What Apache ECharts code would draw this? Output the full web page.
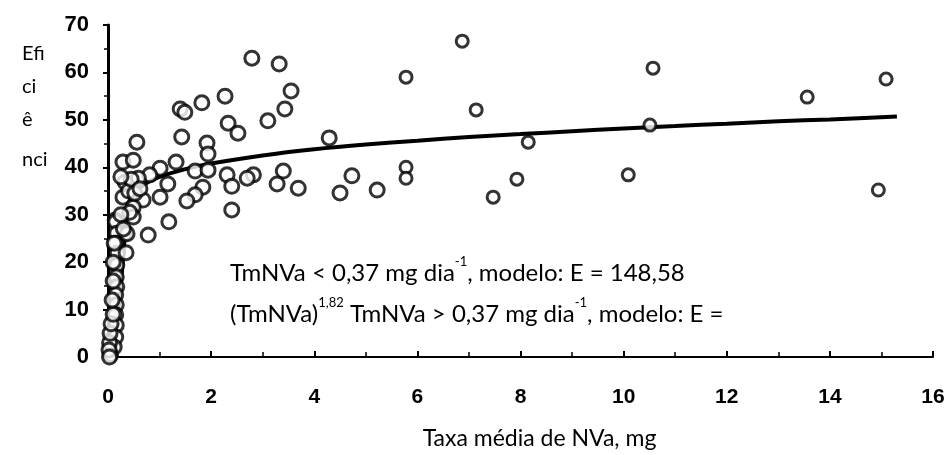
<!DOCTYPE html>
<html>
<head>
<meta charset="utf-8">
<script src="https://cdn.jsdelivr.net/npm/echarts@6/dist/echarts.min.js"></script>
<style>
html,body{margin:0;padding:0;background:#fff;}
#chart{width:949px;height:455px;}
</style>
</head>
<body>
<div id="chart"></div>
<script>
// Observed points (TmNVa, Eficiência)
var obsX = [13.56,15.09,14.94,10.57,10.51,10.09,6.87,5.78,7.14,8.15,5.78,5.78,7.93,7.47,
  2.79,3.32,3.55,3.43,3.10,4.29,2.82,2.70,3.40,3.28,3.69,4.50,4.73,5.22,
  2.27,1.82,1.40,1.49,2.33,2.52,0.56,1.43,1.92,1.94,0.29,0.49,1.32,1.01,0.81,0.59,0.33,1.16,1.69,1.94,2.31,2.40,1.84,1.69,1.53,1.01,0.68,0.29,0.49,2.40,1.18,0.78,0.49,0.14,0.33,
  0.40,0.45,0.25,0.52,0.62,0.42,
  0.15,0.17,0.15,0.18,0.17,0.16,0.17,0.15,0.16,0.15,0.16,0.15,0.12,0.05,0.37,0.35,0.03,0.04,0.02,0.06,0.10,0.08,0.10,0.10,0.12,0.25,0.30,0.03];
var obsY = [54.8,58.6,35.2,60.9,48.9,38.4,66.6,59.0,52.1,45.3,40.0,37.7,37.5,33.7,
  63.0,61.8,56.1,52.3,49.8,46.2,38.4,37.7,39.2,36.5,35.6,34.6,38.2,35.2,
  55.0,53.6,52.3,51.6,49.3,47.2,45.3,46.4,45.1,42.8,41.1,41.5,41.1,39.8,38.4,37.7,36.9,36.5,39.2,39.4,38.4,36.0,35.8,34.2,32.9,33.7,33.1,33.7,31.6,31.0,28.5,25.7,29.5,28.9,26.1,
  35.0,37.5,38.0,34.5,35.5,30.5,
  28.5,26.1,24.0,21.9,19.4,16.9,14.8,13.1,11.0,8.9,6.7,4.2,2.1,0.5,26.0,22.0,3.0,5.0,1.5,7.0,9.0,12.0,16.0,20.0,24.0,30.0,27.0,0.0];

// Fitted curve
var curveX = [0,0.1,0.2,0.27,0.33,0.37,0.45,0.6,0.8,1,1.5,2,3,4,5,6,7,8,9,10,11,12,13,14,15.3];
var curveY = [0,3,10,18,26,31,33.5,35.5,37,38,39.6,40.8,42.5,43.8,44.8,45.6,46.4,47,47.6,48.2,48.7,49.2,49.7,50.1,50.7];

var yAxisName = ['Efi','ci','ê','nci'];
var xAxisName = 'Taxa média de NVa, mg';

var obs = obsX.map(function(x,i){return [x, obsY[i]];});
var curve = curveX.map(function(x,i){return [x, curveY[i]];});

var chart = echarts.init(document.getElementById('chart'));
var txtFont = 'Lato, "Open Sans", sans-serif';
var yNameTops = [44, 77, 110, 150];
var graphics = yAxisName.map(function(t,i){
  return {type:'text', left:22, top:yNameTops[i], style:{text:t, font:'20px '+txtFont, fill:'#000'}};
});
graphics.push(
  {type:'text', left:230, top:255, style:{
    text:'{a|TmNVa < 0,37 mg dia}{s|-1}{a|, modelo: E = 148,58}',
    rich:{a:{fontFamily:txtFont, fontSize:24, lineHeight:30, color:'#000', verticalAlign:'bottom'},
          s:{fontFamily:txtFont, fontSize:13, lineHeight:30, color:'#000', verticalAlign:'top'}}
  }},
  {type:'text', left:230, top:296, style:{
    text:'{a|(TmNVa)}{s|1,82}{a| TmNVa > 0,37 mg dia}{s|-1}{a|, modelo: E =}',
    rich:{a:{fontFamily:txtFont, fontSize:24, lineHeight:30, color:'#000', verticalAlign:'bottom'},
          s:{fontFamily:txtFont, fontSize:13, lineHeight:30, color:'#000', verticalAlign:'top'}}
  }}
);
chart.setOption({
  animation:false,
  backgroundColor:'#fff',
  grid:{left:108, right:16, top:25, bottom:86},
  xAxis:{
    type:'value', min:0, max:16, interval:2,
    axisLine:{show:true, onZero:false, lineStyle:{color:'#000', width:2}},
    axisTick:{show:true, inside:true, length:6, lineStyle:{color:'#000', width:2}},
    minorTick:{show:true, splitNumber:2, length:5, lineStyle:{color:'#000', width:1.5}},
    splitLine:{show:false},
    axisLabel:{margin:30, fontFamily:'"Liberation Sans", Arial', fontWeight:'bold', fontSize:21, color:'#000'},
    name:xAxisName, nameLocation:'middle', nameGap:70,
    nameTextStyle:{fontFamily:txtFont, fontSize:23, color:'#000', padding:[0,0,0,38]}
  },
  yAxis:{
    type:'value', min:0, max:70, interval:10,
    axisLine:{show:true, onZero:false, lineStyle:{color:'#000', width:3}},
    axisTick:{show:true, inside:false, length:5, lineStyle:{color:'#000', width:2}},
    minorTick:{show:true, splitNumber:2, length:4, lineStyle:{color:'#000', width:1.5}},
    splitLine:{show:false},
    axisLabel:{margin:19, fontFamily:'"Liberation Sans", Arial', fontWeight:'bold', fontSize:22, color:'#000'}
  },
  graphic:graphics,
  series:[
    {type:'scatter', data:obs, symbol:'circle',
     symbolSize:function(v){return v[0] > 5.5 ? 12 : 14;},
     itemStyle:{color:'#fff', borderColor:'#000', borderWidth:3}, z:3},
    {type:'line', data:curve, showSymbol:false, smooth:0.3,
     lineStyle:{color:'#000', width:4}, z:2}
  ]
});
</script>
</body>
</html>
